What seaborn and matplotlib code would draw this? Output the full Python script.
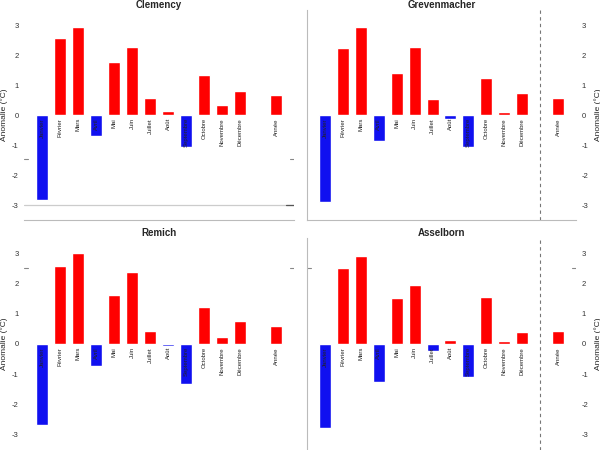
import numpy as np
import pandas as pd
import matplotlib
matplotlib.use('Agg')
import matplotlib.pyplot as plt
import seaborn as sns

sns.set_style('white')
plt.rcParams['font.family'] = ['Liberation Sans', 'DejaVu Sans']

# mois + moyenne annuelle
mois = ['Janvier', 'Février', 'Mars', 'Avril', 'Mai', 'Juin', 'Juillet', 'Août',
        'Septembre', 'Octobre', 'Novembre', 'Décembre', 'Année']

# anomalies de température (°C)
clemency = [-2.82, 2.57, 2.93, -0.69, 1.78, 2.27, 0.57, 0.13, -1.07, 1.33, 0.33, 0.80, 0.67]
grevenmacher = [-2.91, 2.23, 2.93, -0.86, 1.40, 2.27, 0.53, -0.13, -1.07, 1.23, 0.10, 0.73, 0.56]
remich = [-2.67, 2.58, 3.00, -0.73, 1.61, 2.38, 0.44, -0.06, -1.33, 1.21, 0.23, 0.76, 0.60]
asselborn = [-2.77, 2.51, 2.92, -1.26, 1.51, 1.94, -0.22, 0.13, -1.10, 1.54, 0.10, 0.40, 0.44]

stations = ['Clemency', 'Grevenmacher', 'Remich', 'Asselborn']
valeurs = [clemency, grevenmacher, remich, asselborn]
yticks = [-3, -2, -1, 0, 1, 2, 3]

# repères parasites visibles sur l'original
reperes = {'Clemency': -1.47, 'Grevenmacher': None, 'Remich': 2.5, 'Asselborn': 2.5}

# positions : 12 mois puis un emplacement vide puis l'année
pos = np.append(np.arange(12), 13)

W, H = 600, 450
fig = plt.figure(figsize=(6, 4.5), dpi=100)
cadres = {
    'Clemency': (24, 10, 270, 210),
    'Grevenmacher': (307, 10, 269, 210),
    'Remich': (24, 238, 270, 212),
    'Asselborn': (307, 238, 269, 212),
}

for nom, vals in zip(stations, valeurs):
    x0, y0, w, h = cadres[nom]
    ax = fig.add_axes([x0 / W, 1 - (y0 + h) / H, w / W, h / H])
    df = pd.DataFrame({'pos': pos, 'val': vals, 'mois': mois})
    df['signe'] = np.where(df['val'] >= 0, 'pos', 'neg')
    sns.barplot(data=df, x='pos', y='val', hue='signe', native_scale=True,
                palette={'pos': '#ff0000', 'neg': '#1010f0'}, width=0.67,
                saturation=1, dodge=False, legend=False, ax=ax)

    for _, r in df.iterrows():
        ax.text(r['pos'], -0.1, r['mois'], rotation=90, ha='center', va='top',
                fontsize=4.3, color='#222222')

    ax.set_xlim(-1, 14)
    ax.set_ylim(-3.5, 3.5)
    ax.set_xticks([])
    ax.set_yticks(yticks)
    ax.set_yticklabels([str(t) for t in yticks], fontsize=5.5, color='#333333')
    ax.tick_params(axis='y', length=0, pad=4)
    ax.set_xlabel('')
    ax.set_title(nom, fontsize=7, fontweight='bold', pad=1)
    for s in ax.spines.values():
        s.set_visible(False)
        s.set_color('#bbbbbb')

    droite = nom in ('Grevenmacher', 'Asselborn')
    if droite:
        ax.yaxis.tick_right()
        ax.yaxis.set_label_position('right')
        ax.axvline(12, color='#777777', lw=0.8, ls=(0, (3, 3)))
        ax.spines['left'].set_visible(True)
        ax.set_ylabel('Anomalie (°C)', fontsize=6, labelpad=4, rotation=90)
    else:
        ax.set_ylabel('Anomalie (°C)', fontsize=6, labelpad=3)

    if nom == 'Clemency':
        ax.spines['bottom'].set_visible(True)
        ax.axhline(-3, color='#cccccc', lw=0.9)
        ax.axhline(-3, xmin=0.97, xmax=1, color='#555555', lw=0.9)
    if nom == 'Grevenmacher':
        ax.spines['bottom'].set_visible(True)

    r = reperes[nom]
    if r is not None:
        ax.axhline(r, xmin=0, xmax=0.015, color='#888888', lw=0.8)
        ax.axhline(r, xmin=0.985, xmax=1, color='#888888', lw=0.8)

fig.savefig('out.png', dpi=100)
